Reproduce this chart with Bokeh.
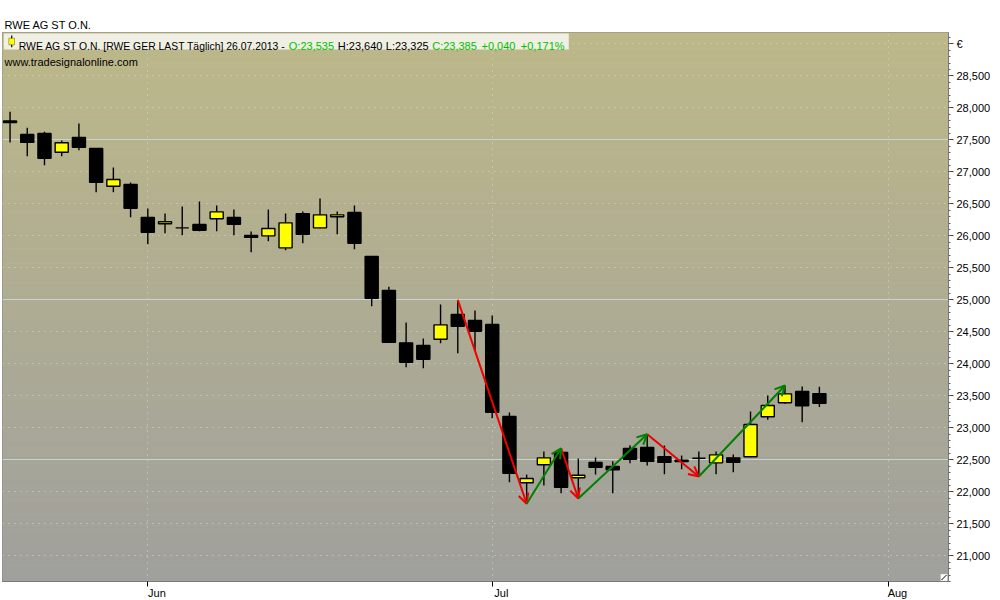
import numpy as np
from bokeh.plotting import figure
from bokeh.models import (ColumnDataSource, FixedTicker, SingleIntervalTicker, Grid,
                          CustomJSTickFormatter, Label, BoxAnnotation, Arrow, OpenHead, Range1d)
from bokeh.embed import file_html
from bokeh.resources import INLINE

# ---------------- data ----------------
symbol = "RWE AG ST O.N."
feed = "[RWE GER LAST Täglich]"
website = "www.tradesignalonline.com"
currency = "€"

dates = ["2013-05-22", "2013-05-23", "2013-05-24", "2013-05-27", "2013-05-28", "2013-05-29",
         "2013-05-30", "2013-05-31",
         "2013-06-03", "2013-06-04", "2013-06-05", "2013-06-06", "2013-06-07", "2013-06-10",
         "2013-06-11", "2013-06-12", "2013-06-13", "2013-06-14", "2013-06-17", "2013-06-18",
         "2013-06-19", "2013-06-20", "2013-06-21", "2013-06-24", "2013-06-25", "2013-06-26",
         "2013-06-27", "2013-06-28",
         "2013-07-01", "2013-07-02", "2013-07-03", "2013-07-04", "2013-07-05", "2013-07-08",
         "2013-07-09", "2013-07-10", "2013-07-11", "2013-07-12", "2013-07-15", "2013-07-16",
         "2013-07-17", "2013-07-18", "2013-07-19", "2013-07-22", "2013-07-23", "2013-07-24",
         "2013-07-25", "2013-07-26"]
opens = [27.770, 27.585, 27.598, 27.305, 27.536, 27.364, 26.775, 26.802,
         26.286, 26.188, 26.125, 26.177, 26.266, 26.286, 26.005, 26.000, 25.812, 26.344,
         26.125, 26.297, 26.364, 25.677, 25.145, 24.328, 24.286, 24.384, 24.770, 24.677,
         24.614, 23.177, 22.141, 22.422, 22.614, 22.219, 22.458, 22.395, 22.677, 22.692,
         22.547, 22.494, 22.525, 22.453, 22.531, 22.547, 23.172, 23.391, 23.567, 23.535]
highs = [27.940, 27.690, 27.625, 27.489, 27.755, 27.364, 27.067, 26.833,
         26.427, 26.348, 26.458, 26.536, 26.473, 26.411, 26.067, 26.411, 26.348, 26.380,
         26.583, 26.380, 26.473, 25.680, 25.203, 24.645, 24.395, 24.927, 24.980, 24.833,
         24.755, 23.239, 22.270, 22.630, 22.677, 22.520, 22.536, 22.478, 22.728, 22.890,
         22.723, 22.567, 22.630, 22.630, 22.583, 23.255, 23.505, 23.661, 23.645, 23.640]
lows = [27.460, 27.245, 27.103, 27.244, 27.337, 26.681, 26.681, 26.291,
        25.869, 26.041, 26.009, 26.072, 26.072, 26.009, 25.744, 25.916, 25.775, 25.884,
        26.119, 26.025, 25.791, 24.900, 24.330, 23.947, 23.931, 24.322, 24.166, 24.208,
        23.150, 22.150, 21.813, 22.098, 21.978, 21.895, 22.270, 21.978, 22.447, 22.411,
        22.275, 22.353, 22.239, 22.275, 22.306, 22.540, 23.125, 23.375, 23.088, 23.325]
closes = [27.795, 27.460, 27.212, 27.455, 27.384, 26.838, 26.880, 26.431,
          26.056, 26.219, 26.125, 26.088, 26.375, 26.181, 25.978, 26.114, 26.203, 26.025,
          26.328, 26.328, 25.884, 25.025, 24.337, 24.025, 24.072, 24.609, 24.588, 24.509,
          23.244, 22.291, 22.208, 22.531, 22.072, 22.259, 22.384, 22.344, 22.509, 22.478,
          22.462, 22.473, 22.525, 22.578, 22.462, 23.052, 23.348, 23.531, 23.345, 23.385]

# zigzag swing points
zz_dates = ["2013-06-27", "2013-07-03", "2013-07-05", "2013-07-08", "2013-07-12", "2013-07-17", "2013-07-24"]
zz_vals = [25.000, 21.813, 22.680, 21.895, 22.900, 22.239, 23.661]

month_labels = ["Jun", "Jul", "Aug"]
month_starts = ["2013-06-01", "2013-07-01", "2013-08-01"]

# ---------------- styles ----------------
FONT = "Liberation Sans"
UP_COL, DN_COL = "#FFFF00", "#000000"
RED, GREEN = "#F00000", "#008000"
LEG_GREEN = "#00C000"
TOP_BG, BOT_BG = (189, 184, 137), (160, 160, 157)
FW, FH = 946, 549
PX_PER_EUR = 64.0
Y_TOP = 29.177
LABEL_PAD = "\u00a0" * 6   # pushes centred month labels to the right of their tick

def bidx(d):
    return int(np.busday_count(dates[0], d))

xs = [bidx(d) for d in dates]
o, h, l, c = map(np.array, (opens, highs, lows, closes))
src = ColumnDataSource(dict(
    x=xs, o=o, h=h, l=l, c=c,
    top=np.maximum(o, c), bottom=np.minimum(o, c),
    color=[UP_COL if cc > oo else DN_COL for oo, cc in zip(o, c)],
))

xr = Range1d(-0.438, 54.497)
yr = Range1d(Y_TOP - FH / PX_PER_EUR, Y_TOP)

p = figure(frame_width=FW, frame_height=FH, x_range=xr, y_range=yr,
           output_backend="svg", toolbar_location=None, y_axis_location="right",
           min_border_left=2, min_border_top=32, min_border_right=0, min_border_bottom=0,
           background_fill_color=None, border_fill_color="white")
p.outline_line_color = "#7A7A7A"
p.outline_line_width = 1

# title above the frame
p.title.text = symbol
p.title.align = "left"
p.title.offset = 2
p.title.standoff = 4
p.title.text_font = FONT
p.title.text_font_size = "11px"
p.title.text_font_style = "normal"
p.title.text_color = "black"

# background gradient (styling strips)
n = 140
ys = np.linspace(yr.start, yr.end, n + 1)
t = ((ys[:-1] + ys[1:]) / 2 - yr.start) / (yr.end - yr.start)
cols = ["#%02x%02x%02x" % tuple(int(round(b + (a - b) * tt)) for a, b in zip(TOP_BG, BOT_BG)) for tt in t]
p.quad(left=xr.start, right=xr.end, bottom=ys[:-1], top=ys[1:], fill_color=cols,
       line_color=cols, line_width=1, level="image")

# grids
p.ygrid.ticker = SingleIntervalTicker(interval=0.5)
p.ygrid.grid_line_color = "#D0D8C8"
p.ygrid.grid_line_dash = "1 5"
p.ygrid.grid_line_width = 1
month_idx = [bidx(m) for m in month_starts]
p.xgrid.ticker = FixedTicker(ticks=month_idx)
p.xgrid.grid_line_color = "#D0D8C8"
p.xgrid.grid_line_dash = "1 5"
solid = Grid(dimension=1, ticker=SingleIntervalTicker(interval=2.5),
             grid_line_color="#C4D6CE", grid_line_width=1.2)
p.add_layout(solid)

# candles
p.segment(x0="x", y0="l", x1="x", y1="h", source=src, line_color="black", line_width=1.4)
p.vbar(x="x", width=0.76, top="top", bottom="bottom", source=src,
       fill_color="color", line_color="black", line_width=1.4)

# zigzag arrows
zx = [bidx(d) for d in zz_dates]
for want_up, col in ((False, RED), (True, GREEN)):
    seg = dict(x0=[], y0=[], x1=[], y1=[])
    for i in range(len(zx) - 1):
        if (zz_vals[i + 1] > zz_vals[i]) == want_up:
            seg["x0"].append(zx[i]); seg["y0"].append(zz_vals[i])
            seg["x1"].append(zx[i + 1]); seg["y1"].append(zz_vals[i + 1])
    p.add_layout(Arrow(end=OpenHead(size=10, line_color=col, line_width=2),
                       source=ColumnDataSource(seg), x_start="x0", y_start="y0",
                       x_end="x1", y_end="y1", line_color=col, line_width=2))

# right axis (top tick carries the currency sign)
ya = p.yaxis[0]
ya.ticker = SingleIntervalTicker(interval=0.5, num_minor_ticks=5)
ya.formatter = CustomJSTickFormatter(
    args=dict(top=Y_TOP, cur=currency),
    code="if (tick > top - 0.25) { return cur; } return tick.toFixed(3).replace('.', ',');")
ya.major_tick_out = 5; ya.major_tick_in = 0
ya.minor_tick_out = 2; ya.minor_tick_in = 0
ya.axis_line_color = "#7A7A7A"
ya.major_tick_line_color = "#404040"
ya.minor_tick_line_color = "#606060"
ya.major_label_text_font = FONT
ya.major_label_text_font_size = "11px"
ya.major_label_text_color = "black"
ya.major_label_standoff = 3

# bottom axis: month ticks, labels just right of the tick
xa = p.xaxis[0]
xa.ticker = FixedTicker(ticks=month_idx)
xa.formatter = CustomJSTickFormatter(
    args=dict(idx=month_idx, names=month_labels, pad=LABEL_PAD),
    code="const k = idx.indexOf(Math.round(tick)); return k >= 0 ? pad + names[k] : '';")
xa.major_tick_out = 5; xa.major_tick_in = 0
xa.minor_tick_line_color = None
xa.axis_line_color = "#7A7A7A"
xa.major_tick_line_color = "black"
xa.major_label_standoff = 0
xa.major_label_text_font = FONT
xa.major_label_text_font_size = "11px"
xa.major_label_text_color = "black"

# texts / legend
def de(v):
    return f"{v:.3f}".replace(".", ",")

def lab(text, x, y, color="black", size="11px"):
    p.add_layout(Label(x=x, y=y, x_units="screen", y_units="screen", text=text,
                       text_font=FONT, text_font_size=size, text_color=color,
                       text_baseline="alphabetic", text_align="left"))

def sbox(left, right, bottom, top, **kw):
    p.add_layout(BoxAnnotation(left=left, right=right, bottom=bottom, top=top,
                               left_units="screen", right_units="screen",
                               bottom_units="screen", top_units="screen", fill_alpha=1, **kw))

lab(website, 2, FH - 29.7)

sbox(1.3, 566.3, FH - 17, FH - 1, fill_color="#EFEFE3", line_color=None)
sbox(8.6, 9.8, FH - 14.7, FH - 3, fill_color="black", line_color=None)
sbox(6.3, 12, FH - 12.3, FH - 5.7, fill_color=UP_COL, line_color="black", line_width=1)

d = dates[-1]
date_de = f"{d[8:10]}.{d[5:7]}.{d[0:4]}"
chg = closes[-1] - closes[-2]
pct = chg / closes[-2] * 100
legend_parts = [
    (f"{symbol} {feed} {date_de} -", "black", 16.3, "10.4px"),
    (f"O:{de(opens[-1])}", LEG_GREEN, 286.3, "11px"),
    (f"H:{de(highs[-1])}", "black", 335.3, "11px"),
    (f"L:{de(lows[-1])}", "black", 383.3, "11px"),
    (f"C:{de(closes[-1])}", LEG_GREEN, 429.7, "11px"),
    (f"{chg:+.3f}".replace(".", ","), LEG_GREEN, 479, "11px"),
    (f"{pct:+.3f}".replace(".", ",") + "%", LEG_GREEN, 518.3, "11px"),
]
for text, col, x, size in legend_parts:
    lab(text, x, FH - 13.7, col, size)

# corner resize mark
sbox(FW - 8, FW - 1, 0.5, 7.5, fill_color="white", line_color="#9A9A9A", line_width=1)
p.add_layout(Arrow(end=None, x_start=FW - 7, y_start=1.5, x_end=FW - 2, y_end=6.5,
                   start_units="screen", end_units="screen", line_color="black", line_width=1))

open("out.html", "w").write(file_html(p, INLINE))
